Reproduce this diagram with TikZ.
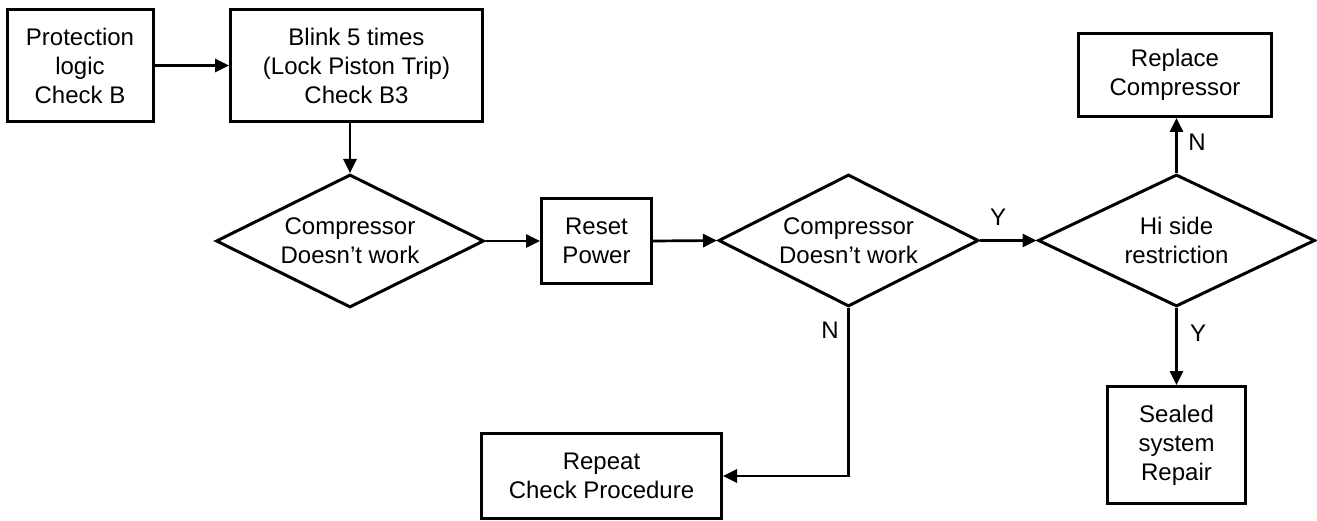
\documentclass[tikz,border=0pt]{standalone}
\usepackage{fontspec}
\setmainfont{Liberation Sans}
\usetikzlibrary{shapes.geometric,arrows.meta}
\begin{document}
\begin{tikzpicture}[x=1pt,y=-1pt,
  font=\fontsize{24}{29}\selectfont,
  box/.style={draw,line width=3pt,inner sep=0pt,align=center},
  dia/.style={draw,shape=diamond,aspect=2,line width=3pt,inner sep=0pt,align=center},
  arr/.style={line width=2.7pt,-{Triangle[length=14pt,width=13pt]}},
  lbl/.style={inner sep=0pt}]
\useasboundingbox (0,0) rectangle (1317,521);
\node[box,minimum width=146,minimum height=112] (b1) at (80,65.5) {Protection\\logic\\Check B};
\node[box,minimum width=252,minimum height=112] (b2) at (356.5,65.5) {Blink 5 times\\(Lock Piston Trip)\\Check B3};
\node[dia,minimum width=268,minimum height=133] (d1) at (350,241) {Compressor\\Doesn’t work};
\node[box,minimum width=110,minimum height=85] (rp) at (596.5,241) {Reset\\Power};
\node[dia,minimum width=260,minimum height=132] (d2) at (848.5,240.5) {Compressor\\Doesn’t work};
\node[dia,minimum width=277,minimum height=132] (d3) at (1176.5,240.5) {Hi side\\restriction};
\node[box,minimum width=193,minimum height=83] (rc) at (1175,75) {Replace\\Compressor};
\node[box,minimum width=138,minimum height=117] (ss) at (1176.5,445) {Sealed\\system\\Repair};
\node[box,minimum width=240,minimum height=85] (rep) at (601.5,476) {Repeat\\Check Procedure};
\draw[arr] (b1.east) -- (b2.west);
\draw[arr] (b2.south -| d1.north) -- (d1.north);
\draw[arr] (d1.east) -- (rp.west);
\draw[arr] (rp.east) -- (d2.west);
\draw[arr] (d2.east) -- (d3.west);
\draw[arr] (d3.north) -- (rc.south -| d3.north);
\draw[arr] (d3.south) -- (ss.north -| d3.south);
\draw[arr] (d2.south) |- (rep.east);
\node[lbl] (y1) at (998,217) {Y};
\node[lbl] (n1) at (830,330) {N};
\node[lbl] (n2) at (1197,142) {N};
\node[lbl] (y2) at (1198,333) {Y};
\end{tikzpicture}
\end{document}
